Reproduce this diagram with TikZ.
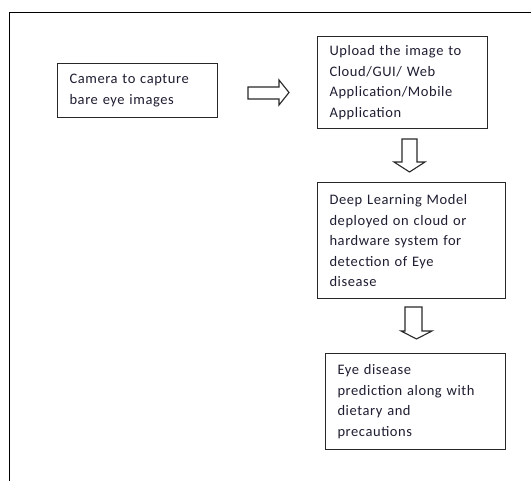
\documentclass[tikz,border=0pt]{standalone}
\usepackage{fontspec}
\setmainfont{Carlito}[LetterSpace=4]
\definecolor{ink}{RGB}{30,30,50}
\definecolor{edge}{RGB}{40,40,40}
\begin{document}
\begin{tikzpicture}[x=1pt,y=-1pt,
  box/.style={draw=edge, line width=1.1pt, rectangle, inner xsep=12pt, inner ysep=0pt,
    align=left, anchor=north west, text=ink,
    font=\fontsize{14.5}{20.5}\selectfont},
  blockarrow/.style={draw=edge, line width=1.1pt, fill=white, line join=miter},
  frameline/.style={draw=black, line width=1.5pt}
]
\fill[white] (0,0) rectangle (531,481);
\useasboundingbox (0,0) rectangle (531,481);

% outer frame (top and left edges)
\coordinate (fb) at (9.5,481);
\coordinate (fc) at (9.5,12.5);
\coordinate (fr) at (531,12.5);
\draw[frameline] (fb) -- (fc) -- (fr);

% boxes
\node[box, minimum width=160pt, minimum height=54pt, text width=136pt] (cam) at (57,63)
  {Camera to capture\\bare eye images};
\node[box, minimum width=170pt, minimum height=92pt, text width=146pt] (upl) at (317,36)
  {Upload the image to\\Cloud/GUI/ Web\\Application/Mobile\\Application};
\node[box, minimum width=188pt, minimum height=116pt, text width=164pt] (dlm) at (317,182)
  {Deep Learning Model\\deployed on cloud or\\hardware system for\\detection of Eye\\disease};
\node[box, minimum width=180pt, minimum height=96pt, text width=156pt] (pred) at (325,353)
  {Eye disease\\prediction along with\\dietary and\\precautions};

% block arrows
\draw[blockarrow] (248,87) -- (279,87) -- (279,80) -- (289,92.5) -- (279,105) -- (279,99) -- (248,99) -- cycle;
\draw[blockarrow] (402,139) -- (417,139) -- (417,162) -- (425,162) -- (409.5,172) -- (394,162) -- (402,162) -- cycle;
\draw[blockarrow] (405,307) -- (422,307) -- (422,331) -- (432,331) -- (416.5,339) -- (401,331) -- (405,331) -- cycle;
\end{tikzpicture}
\end{document}
